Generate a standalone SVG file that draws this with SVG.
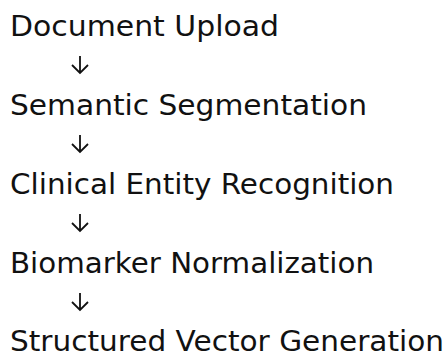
<svg xmlns="http://www.w3.org/2000/svg" width="448" height="358" viewBox="0 0 448 358">
<style>
.lbl{font-family:"DejaVu Sans","Liberation Sans",sans-serif;font-size:28.5px;fill:#111111}
.arr{fill:none;stroke:#111111;stroke-width:1.8;stroke-linecap:butt;stroke-linejoin:miter}
</style>
<rect width="448" height="358" fill="#ffffff"/>
<g id="connectors">
<path class="arr" d="M80 56V73M72 65L80 73L88 65"/>
<path class="arr" d="M80 135V152M72 144L80 152L88 144"/>
<path class="arr" d="M80 214V231M72 223L80 231L88 223"/>
<path class="arr" d="M80 293V310M72 302L80 310L88 302"/>
</g>
<g id="n1"><text class="lbl" x="10" y="35.5" textLength="269" lengthAdjust="spacingAndGlyphs">Document Upload</text></g>
<g id="n2"><text class="lbl" x="10" y="114.5" textLength="357" lengthAdjust="spacingAndGlyphs">Semantic Segmentation</text></g>
<g id="n3"><text class="lbl" x="10" y="193.5" textLength="384" lengthAdjust="spacingAndGlyphs">Clinical Entity Recognition</text></g>
<g id="n4"><text class="lbl" x="10" y="272.5" textLength="364" lengthAdjust="spacingAndGlyphs">Biomarker Normalization</text></g>
<g id="n5"><text class="lbl" x="10" y="351.3" textLength="434" lengthAdjust="spacingAndGlyphs">Structured Vector Generation</text></g>
</svg>
